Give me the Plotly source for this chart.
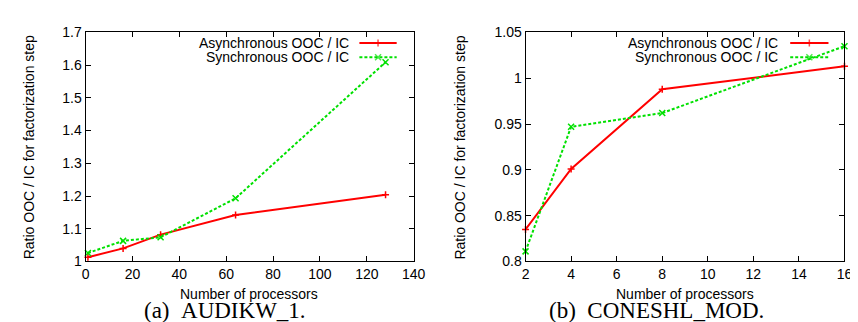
import plotly.graph_objects as go

# ---- data ----
procs_a = [1, 16, 32, 64, 128]
async_a = [1.013, 1.040, 1.082, 1.142, 1.204]
sync_a = [1.026, 1.063, 1.074, 1.193, 1.609]

procs_b = [2, 4, 8, 16]
async_b = [0.835, 0.901, 0.988, 1.013]
sync_b = [0.811, 0.947, 0.962, 1.035]

series_names = ["Asynchronous OOC / IC", "Synchronous OOC / IC"]
captions = ["(a)\u00a0\u00a0AUDIKW_1.", "(b)\u00a0\u00a0CONESHL_MOD."]
x_title = "Number of processors"
y_title = "Ratio OOC / IC for factorization step"

RED = "#ff0000"
GREEN = "#00e000"
W, H = 858, 322
FONT = "Liberation Sans, Arial, Helvetica, sans-serif"
SERIF = "Liberation Serif, Times New Roman, serif"

def px(x):
    return x / W

def py(y):
    return 1 - y / H

fig = go.Figure()

styles = [
    dict(line=dict(color=RED, width=2),
         marker=dict(symbol="cross-thin-open", size=5, line=dict(color=RED, width=1.5))),
    dict(line=dict(color=GREEN, width=2, dash="3px,2px"),
         marker=dict(symbol="x-thin-open", size=6, line=dict(color=GREEN, width=1.5))),
]

for xs, ys_list, xa, ya in [(procs_a, [async_a, sync_a], "x", "y"),
                            (procs_b, [async_b, sync_b], "x2", "y2")]:
    for ys, st in zip(ys_list, styles):
        fig.add_trace(go.Scatter(x=xs, y=ys, mode="lines+markers", xaxis=xa, yaxis=ya,
                                 showlegend=False, cliponaxis=False, **st))

# custom gnuplot-like legends (text right, sample on right) on a full-figure helper axis
legend_specs = [
    dict(text_right=345, line_l=354, line_r=392),
    dict(text_right=783, line_l=793, line_r=832),
]
legend_rows = [28.5, 43.5]
for spec in legend_specs:
    for name, st, row in zip(series_names, styles, legend_rows):
        mid = (spec["line_l"] + spec["line_r"]) / 2
        fig.add_trace(go.Scatter(
            x=[px(spec["line_l"]), px(mid), px(spec["line_r"])],
            y=[py(row)] * 3, mode="lines+markers", xaxis="x3", yaxis="y3",
            showlegend=False, hoverinfo="skip", cliponaxis=False,
            line=st["line"],
            marker=dict(symbol=st["marker"]["symbol"], size=[0, st["marker"]["size"], 0],
                        line=st["marker"]["line"], color=st["line"]["color"])))
        fig.add_annotation(x=px(spec["text_right"]), y=py(row), xref="paper", yref="paper",
                           text=name, showarrow=False, xanchor="right", yanchor="middle",
                           font=dict(family=FONT, size=14, color="black"))

axis_common = dict(showgrid=False, zeroline=False, showline=True, linecolor="black",
                   linewidth=1, mirror="ticks", ticks="inside", ticklen=5,
                   tickcolor="black", tickfont=dict(family=FONT, size=14, color="black"))

y_dom = [py(258.3), py(17.3)]
fig.update_layout(
    width=W, height=H,
    margin=dict(l=0, r=0, t=0, b=0),
    paper_bgcolor="white", plot_bgcolor="rgba(0,0,0,0)",
    showlegend=False,
    xaxis=dict(domain=[px(75), px(409.3)], range=[0, 140], dtick=20, tick0=0,
               anchor="y", **axis_common),
    yaxis=dict(domain=y_dom, range=[1, 1.7], dtick=0.1, tick0=1, anchor="x",
               **axis_common),
    xaxis2=dict(domain=[px(523.3), px(848.3)], range=[2, 16], dtick=2, tick0=2,
                anchor="y2", **axis_common),
    yaxis2=dict(domain=y_dom, range=[0.8, 1.05], dtick=0.05, tick0=0.8, anchor="x2",
                **axis_common),
    xaxis3=dict(domain=[0, 1], range=[0, 1], visible=False, anchor="y3",
                showgrid=False, zeroline=False),
    yaxis3=dict(domain=[0, 1], range=[0, 1], visible=False, anchor="x3",
                showgrid=False, zeroline=False),
)

# axis titles
for cx in [242, 686]:
    fig.add_annotation(x=px(cx), y=py(293), xref="paper", yref="paper", text=x_title,
                       showarrow=False, xanchor="center", yanchor="middle",
                       font=dict(family=FONT, size=14, color="black"))
for cx in [17.5, 457]:
    fig.add_annotation(x=px(cx), y=py(138), xref="paper", yref="paper", text=y_title,
                       showarrow=False, textangle=-90, xanchor="center", yanchor="middle",
                       font=dict(family=FONT, size=14, color="black"))
# captions
for cx, cap in zip([217, 656.5], captions):
    fig.add_annotation(x=px(cx), y=py(309.5), xref="paper", yref="paper", text=cap,
                       showarrow=False, xanchor="center", yanchor="middle",
                       font=dict(family=SERIF, size=23, color="black"))

fig.write_html("out.html")
